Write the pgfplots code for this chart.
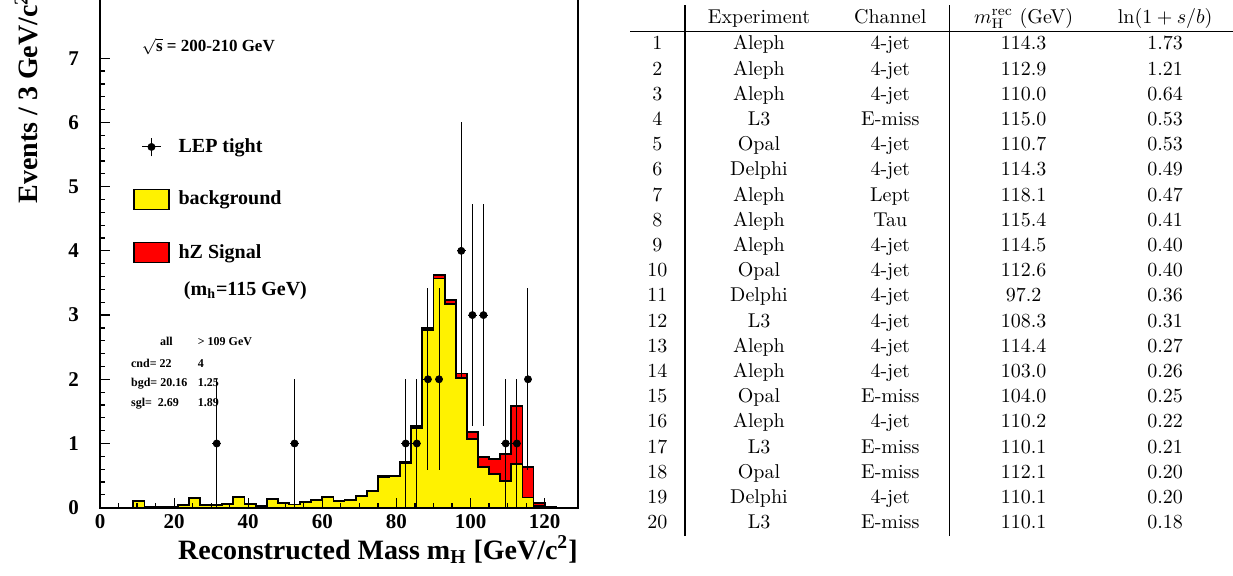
\documentclass[border=0pt]{standalone}
\usepackage{fontspec}
\newfontfamily\timesb{Liberation Serif}
\usepackage{array}
\usepackage{pgfplots}
\pgfplotsset{compat=1.18}
\usepackage{pgfplotstable}
\newcolumntype{C}[1]{>{\centering\arraybackslash}p{#1}}

\newcommand\fA{\timesb\bfseries\fontsize{10.5pt}{12pt}\selectfont}
\newcommand\fB{\timesb\bfseries\fontsize{14pt}{16pt}\selectfont}
\newcommand\fC{\timesb\bfseries\fontsize{10pt}{12pt}\selectfont}
\newcommand\fD{\timesb\bfseries\fontsize{6pt}{7pt}\selectfont}
\newcommand\fE{\timesb\bfseries\fontsize{8.5pt}{10pt}\selectfont}

% 3 GeV bins: left edge, background, background+signal
\pgfplotstableread{
x bkg tot
0 0 0
3 0 0
6 0 0
9 0.11 0.11
12 0.005 0.005
15 0.005 0.005
18 0.02 0.02
21 0.04 0.04
24 0.15 0.15
27 0.04 0.04
30 0.04 0.04
33 0.06 0.06
36 0.17 0.17
39 0.06 0.06
42 0.03 0.03
45 0.14 0.14
48 0.07 0.07
51 0.05 0.05
54 0.09 0.09
57 0.12 0.12
60 0.17 0.17
63 0.10 0.10
66 0.12 0.12
69 0.18 0.18
72 0.26 0.26
75 0.48 0.49
78 0.49 0.50
81 0.69 0.71
84 1.24 1.27
87 2.77 2.80
90 3.57 3.62
93 3.17 3.23
96 2.02 2.09
99 1.07 1.18
102 0.63 0.79
105 0.53 0.76
108 0.42 0.84
111 0.68 1.59
114 0.16 0.63
117 0.025 0.075
120 0.005 0.015
123 0.002 0.004
126 0 0
129 0 0
}\hist

\pgfplotstableread{
x y ex ey
31.5 1 1.2 1
52.5 1 1.2 1
82.5 1 1.2 1
85.5 1 1.2 1
88.5 2 1.2 1.414
91.5 2 1.2 1.414
97.5 4 1.2 2
100.5 3 1.2 1.732
103.5 3 1.2 1.732
109.5 1 1.2 1
112.5 1 1.2 1
115.5 2 1.2 1.414
}\lep

\begin{document}
\begin{tikzpicture}
\useasboundingbox (0,0) rectangle (616.5pt,287.5pt);
\clip (0,0) rectangle (616.5pt,287.5pt);
\begin{axis}[
  at={(50pt,33.65pt)}, anchor=south west,
  scale only axis, width=239pt, height=256.85pt,
  xmin=0, xmax=129, ymin=0, ymax=8,
  axis on top,
  tick align=inside, tick pos=left,
  xtick={0,20,...,120}, minor x tick num=3,
  ytick={0,1,...,7}, minor y tick num=4,
  major tick length=5pt, minor tick length=2.5pt,
  ticklabel style={font=\fA},
  /pgf/number format/assume math mode=true,
  yticklabel style={xshift=-7pt},
  axis line style={line width=0.8pt},
  tick style={black, line width=0.6pt},
  reverse legend,
  legend cell align=left,
  legend style={draw=none, fill=none, inner sep=0pt,
    at={(axis cs:8.9,5.78)}, anchor=north west,
    font=\fC, row sep=16pt, column sep=4.5pt,
    nodes={inner sep=0pt}},
]
\addplot[const plot, fill=red, draw=black, line width=0.9pt,
  legend image code/.code={\draw[fill=red,draw=black,line width=0.6pt] (0pt,-5pt) rectangle (17.5pt,5pt);}]
  table[x=x,y=tot]{\hist} \closedcycle;
\addlegendentry{hZ Signal}
\addplot[const plot, fill=yellow, draw=black, line width=0.9pt,
  legend image code/.code={\draw[fill=yellow,draw=black,line width=0.6pt] (0pt,-5pt) rectangle (17.5pt,5pt);}]
  table[x=x,y=bkg]{\hist} \closedcycle;
\addlegendentry{background}
\addplot[only marks, black, mark=*, mark size=1.75pt,
  legend image code/.code={%
    \path[draw=none,fill=none] (0pt,-5pt) rectangle (17.5pt,5pt);
    \draw[black,line width=0.5pt] (4.2pt,0pt) -- (13.3pt,0pt) (8.75pt,-4.7pt) -- (8.75pt,4.7pt);
    \fill[black] (8.75pt,0pt) circle (1.75pt);},
  error bars/.cd, x dir=both, x explicit, y dir=both, y explicit,
  error mark=none, error bar style={line width=0.5pt, black}]
  table[x=x,y=y,x error=ex,y error=ey]{\lep};
\addlegendentry{LEP tight}
\node[anchor=base west, font=\fE] at (axis cs:9.4,7.10) {$\sqrt{\hbox{\fE s}}$ = 200-210 GeV};
\node[anchor=base west, font=\fC] at (axis cs:20.75,3.30) {(m\textsubscript{h}=115 GeV)};
\node[anchor=base west, font=\fD] at (axis cs:14.3,2.52) {all};
\node[anchor=base west, font=\fD] at (axis cs:24.5,2.52) {> 109 GeV};
\node[anchor=base west, font=\fD] at (axis cs:6.5,2.19) {cnd= 22};
\node[anchor=base west, font=\fD] at (axis cs:24.5,2.19) {4};
\node[anchor=base west, font=\fD] at (axis cs:6.5,1.88) {bgd= 20.16};
\node[anchor=base west, font=\fD] at (axis cs:24.5,1.88) {1.25};
\node[anchor=base west, font=\fD] at (axis cs:6.5,1.57) {sgl=\ \ 2.69};
\node[anchor=base west, font=\fD] at (axis cs:24.5,1.57) {1.89};
\end{axis}
\node[anchor=base east, inner sep=0pt, font=\fB] at (289pt,8pt) {Reconstructed Mass m\textsubscript{H} [GeV/c\textsuperscript{2}]};
\node[anchor=base east, inner sep=0pt, rotate=90, font=\fB] at (19pt,290.5pt) {Events / 3 GeV/c\textsuperscript{2}};
\node[anchor=north west, inner sep=0pt] at (315pt,285pt) {%
\renewcommand{\arraystretch}{1.05}%
\setlength{\tabcolsep}{0pt}%
\setlength{\arrayrulewidth}{0.8pt}%
\begin{tabular}{C{27pt}|C{73pt}C{58.3pt}|C{73.4pt}C{68.2pt}}
 & Experiment & Channel & $m_{\mathrm{H}}^{\mathrm{rec}}$~(GeV) & $\ln(1+s/b)$ \\ \hline
1 & Aleph & 4-jet & 114.3 & 1.73 \\
2 & Aleph & 4-jet & 112.9 & 1.21 \\
3 & Aleph & 4-jet & 110.0 & 0.64 \\
4 & L3 & E-miss & 115.0 & 0.53 \\
5 & Opal & 4-jet & 110.7 & 0.53 \\
6 & Delphi & 4-jet & 114.3 & 0.49 \\
7 & Aleph & Lept & 118.1 & 0.47 \\
8 & Aleph & Tau & 115.4 & 0.41 \\
9 & Aleph & 4-jet & 114.5 & 0.40 \\
10 & Opal & 4-jet & 112.6 & 0.40 \\
11 & Delphi & 4-jet & 97.2 & 0.36 \\
12 & L3 & 4-jet & 108.3 & 0.31 \\
13 & Aleph & 4-jet & 114.4 & 0.27 \\
14 & Aleph & 4-jet & 103.0 & 0.26 \\
15 & Opal & E-miss & 104.0 & 0.25 \\
16 & Aleph & 4-jet & 110.2 & 0.22 \\
17 & L3 & E-miss & 110.1 & 0.21 \\
18 & Opal & E-miss & 112.1 & 0.20 \\
19 & Delphi & 4-jet & 110.1 & 0.20 \\
20 & L3 & E-miss & 110.1 & 0.18 \\
\end{tabular}};
\end{tikzpicture}
\end{document}
